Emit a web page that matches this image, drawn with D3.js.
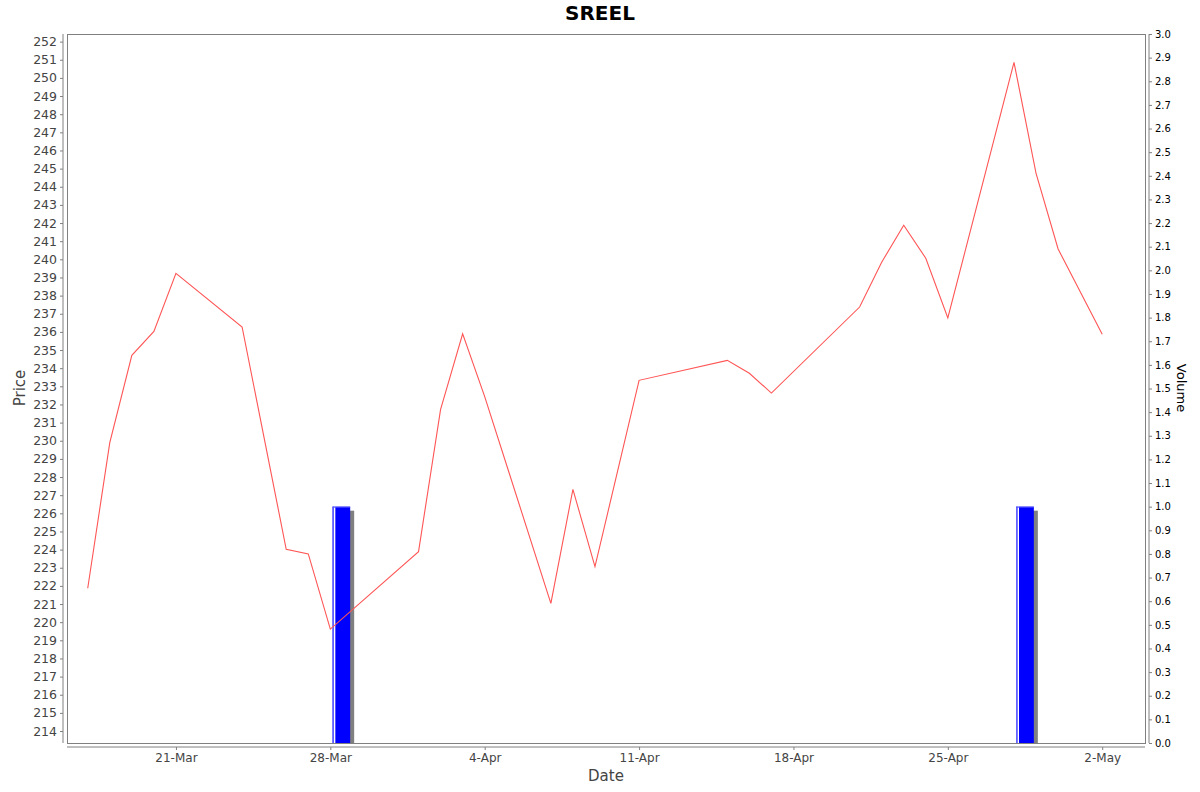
<!DOCTYPE html>
<html>
<head>
<meta charset="utf-8">
<script src="https://cdn.jsdelivr.net/npm/d3@7"></script>
<style>
  html, body { margin: 0; padding: 0; background: #fff; }
  svg { display: block; font-family: "DejaVu Sans", sans-serif; }
</style>
</head>
<body>
<svg id="chart" width="1200" height="792"></svg>
<script>
const title = "SREEL";
const dates = ["2025-03-17","2025-03-18","2025-03-19","2025-03-20","2025-03-21","2025-03-24","2025-03-26","2025-03-27","2025-03-28",
  "2025-04-01","2025-04-02","2025-04-03","2025-04-04","2025-04-07","2025-04-08","2025-04-09","2025-04-11",
  "2025-04-15","2025-04-16","2025-04-17","2025-04-21","2025-04-22","2025-04-23","2025-04-24","2025-04-25",
  "2025-04-28","2025-04-29","2025-04-30","2025-05-02"];
const prices = [221.87,229.9,234.71,236.03,239.23,236.27,224.02,223.76,219.62,
  223.89,231.73,235.89,232.43,221.04,227.32,223.06,233.33,
  234.43,233.72,232.63,237.37,239.84,241.88,240.06,236.77,
  250.86,244.74,240.57,235.87];
const volumes = [0,0,0,0,0,0,0,0,1,
  0,0,0,0,0,0,0,0,
  0,0,0,0,0,0,0,0,
  1,0,0,0];
const xTickDates = ["2025-03-21","2025-03-28","2025-04-04","2025-04-11","2025-04-18","2025-04-25","2025-05-02"];
const priceTicks = d3.range(214, 253, 1);
const volumeTicks = d3.range(0, 31, 1).map(d => d / 10);

const parse = d3.utcParse("%Y-%m-%d");
const DAY = 864e5;
const pts = dates.map((d, i) => ({date: parse(d), price: prices[i], vol: volumes[i]}));

const svg = d3.select("#chart");
const L = 67, R = 1145, T = 34, B = 743;

const first = pts[0].date.getTime();
const last = pts[pts.length - 1].date.getTime() + DAY;
const pad = (last - first) * 0.02;
const x = d3.scaleUtc().domain([new Date(first - pad), new Date(last + pad)]).range([L, R]);
const y = d3.scaleLinear().domain([213.34, 252.42]).range([B, T]);
const yv = d3.scaleLinear().domain([0, 3]).range([B, T]);

// title
svg.append("text").attr("x", 600).attr("y", 20).attr("text-anchor", "middle")
  .attr("font-size", 20).attr("font-weight", "bold").attr("fill", "#000").text(title);

// plot background + border
svg.append("rect").attr("x", L).attr("y", T).attr("width", R - L).attr("height", B - T)
  .attr("fill", "#fff").attr("stroke", "#808080").attr("stroke-width", 1)
  .attr("shape-rendering", "crispEdges");

// volume bars (interval [date, date+1day], 20% margin)
const barPts = pts.filter(p => p.vol > 0);
const bars = svg.append("g");
barPts.forEach(p => {
  const x0 = x(new Date(p.date.getTime() + 0.1 * DAY));
  const x1 = x(new Date(p.date.getTime() + 0.9 * DAY));
  const yt = yv(p.vol);
  bars.append("rect").attr("x", x0 + 4).attr("y", yt + 4).attr("width", x1 - x0).attr("height", B - yt - 4)
    .attr("fill", "#808080");
  bars.append("rect").attr("x", x0).attr("y", yt).attr("width", x1 - x0).attr("height", B - yt)
    .attr("fill", "#0000ff");
  bars.append("rect").attr("x", x0).attr("y", yt).attr("width", 1.2).attr("height", B - yt)
    .attr("fill", "#7070ff");
  bars.append("rect").attr("x", x0 + 1.4).attr("y", yt).attr("width", 1.4).attr("height", B - yt)
    .attr("fill", "#ffffff");
  bars.append("rect").attr("x", x0).attr("y", yt).attr("width", x1 - x0).attr("height", 1)
    .attr("fill", "#5050ff");
});

// price line
const line = d3.line().x(p => x(p.date)).y(p => y(p.price));
svg.append("path").datum(pts).attr("d", line).attr("fill", "none")
  .attr("stroke", "#ff5555").attr("stroke-width", 1.1);

// left axis
const gL = svg.append("g").attr("transform", `translate(${L - 4},0)`)
  .call(d3.axisLeft(y).tickValues(priceTicks).tickFormat(d3.format("d")).tickSizeOuter(0).tickSizeInner(3).tickPadding(3));
gL.select(".domain").attr("stroke", "#808080").attr("d", `M0,${T}V${B}`);
gL.selectAll(".tick line").attr("stroke", "#808080");
gL.selectAll(".tick text").attr("fill", "#444").attr("font-size", 12.5).attr("font-family", "DejaVu Sans");

// bottom axis
const gB = svg.append("g").attr("transform", `translate(0,${B + 4})`)
  .call(d3.axisBottom(x).tickValues(xTickDates.map(parse)).tickFormat(d3.utcFormat("%-d-%b")).tickSizeOuter(0).tickSizeInner(3).tickPadding(3));
gB.select(".domain").attr("stroke", "#808080").attr("d", `M${L},0H${R}`);
gB.selectAll(".tick line").attr("stroke", "#808080");
gB.selectAll(".tick text").attr("fill", "#444").attr("font-size", 12).attr("font-family", "DejaVu Sans");

// right axis
const gR = svg.append("g").attr("transform", `translate(${R + 4},0)`)
  .call(d3.axisRight(yv).tickValues(volumeTicks).tickFormat(d3.format(".1f")).tickSizeOuter(0).tickSizeInner(3).tickPadding(3));
gR.select(".domain").attr("stroke", "#808080").attr("d", `M0,${T}V${B}`);
gR.selectAll(".tick line").attr("stroke", "#808080");
gR.selectAll(".tick text").attr("fill", "#000").attr("font-size", 10).attr("font-family", "DejaVu Sans");

// axis labels
svg.append("text").attr("x", 606).attr("y", 781).attr("text-anchor", "middle")
  .attr("font-size", 15).attr("fill", "#444").text("Date");
svg.append("text").attr("transform", "translate(25,388) rotate(-90)").attr("text-anchor", "middle")
  .attr("font-size", 15).attr("fill", "#444").text("Price");
svg.append("text").attr("transform", "translate(1177,388) rotate(90)").attr("text-anchor", "middle")
  .attr("font-size", 13).attr("fill", "#000").text("Volume");
</script>
</body>
</html>
